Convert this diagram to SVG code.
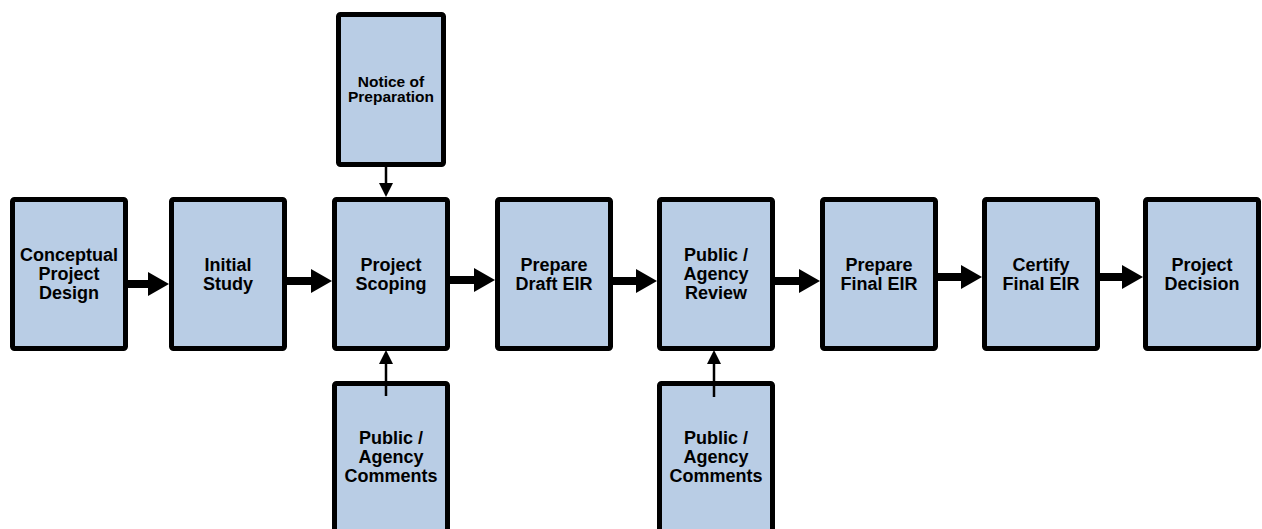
<svg xmlns="http://www.w3.org/2000/svg" width="1262" height="529" viewBox="0 0 1262 529">
<style>
.box{fill:#B9CDE5;stroke:#000;stroke-width:5}
.t{font-family:"Liberation Sans",Arial,sans-serif;font-weight:bold;font-size:18px;text-anchor:middle;fill:#000}
.ts{font-size:15.5px}
.thick{stroke:#000;stroke-width:8;fill:none}
.thin{stroke:#000;stroke-width:2.5;fill:none}
</style>
<defs>
<marker id="big" markerUnits="userSpaceOnUse" markerWidth="22" markerHeight="24" refX="0" refY="12" orient="auto" viewBox="0 0 22 24">
<path d="M0,0 L21,12 L0,24 Z" fill="#000"/>
</marker>
<marker id="small" markerUnits="userSpaceOnUse" markerWidth="15" markerHeight="15" refX="0" refY="7" orient="auto" viewBox="0 0 15 14">
<path d="M0,0 L14,7 L0,14 Z" fill="#000"/>
</marker>
</defs>
<rect width="1262" height="529" fill="#fff"/>
<g id="n1"><rect class="box" x="12.5" y="199.5" width="113" height="149" rx="2"/>
<text class="t"><tspan x="69" y="260.5">Conceptual</tspan><tspan x="69" y="279.5">Project</tspan><tspan x="69" y="298.5">Design</tspan></text></g>
<g id="n2"><rect class="box" x="171.5" y="199.5" width="113" height="149" rx="2"/>
<text class="t"><tspan x="228" y="271">Initial</tspan><tspan x="228" y="290">Study</tspan></text></g>
<g id="n3"><rect class="box" x="334.5" y="199.5" width="113" height="149" rx="2"/>
<text class="t"><tspan x="391" y="271">Project</tspan><tspan x="391" y="290">Scoping</tspan></text></g>
<g id="n4"><rect class="box" x="497.5" y="199.5" width="113" height="149" rx="2"/>
<text class="t"><tspan x="554" y="271">Prepare</tspan><tspan x="554" y="290">Draft EIR</tspan></text></g>
<g id="n5"><rect class="box" x="659.5" y="199.5" width="113" height="149" rx="2"/>
<text class="t"><tspan x="716" y="260.5">Public /</tspan><tspan x="716" y="279.5">Agency</tspan><tspan x="716" y="298.5">Review</tspan></text></g>
<g id="n6"><rect class="box" x="822.5" y="199.5" width="113" height="149" rx="2"/>
<text class="t"><tspan x="879" y="271">Prepare</tspan><tspan x="879" y="290">Final EIR</tspan></text></g>
<g id="n7"><rect class="box" x="984.5" y="199.5" width="113" height="149" rx="2"/>
<text class="t"><tspan x="1041" y="271">Certify</tspan><tspan x="1041" y="290">Final EIR</tspan></text></g>
<g id="n8"><rect class="box" x="1145.5" y="199.5" width="113" height="149" rx="2"/>
<text class="t"><tspan x="1202" y="271">Project</tspan><tspan x="1202" y="290">Decision</tspan></text></g>
<g id="nop"><rect class="box" x="338.5" y="14.5" width="105" height="150" rx="2"/>
<text class="t ts"><tspan x="391" y="87">Notice of</tspan><tspan x="391" y="102">Preparation</tspan></text></g>
<g id="pac1"><rect class="box" x="334.5" y="383.5" width="113" height="150" rx="2"/>
<text class="t"><tspan x="391" y="444">Public /</tspan><tspan x="391" y="463">Agency</tspan><tspan x="391" y="482">Comments</tspan></text></g>
<g id="pac2"><rect class="box" x="659.5" y="383.5" width="113" height="150" rx="2"/>
<text class="t"><tspan x="716" y="444">Public /</tspan><tspan x="716" y="463">Agency</tspan><tspan x="716" y="482">Comments</tspan></text></g>
<g id="connectors">
<line class="thick" x1="127" y1="284" x2="148" y2="284" marker-end="url(#big)"/>
<line class="thick" x1="286" y1="281" x2="311" y2="281" marker-end="url(#big)"/>
<line class="thick" x1="449" y1="280" x2="474" y2="280" marker-end="url(#big)"/>
<line class="thick" x1="612" y1="281" x2="636" y2="281" marker-end="url(#big)"/>
<line class="thick" x1="774" y1="281" x2="799" y2="281" marker-end="url(#big)"/>
<line class="thick" x1="937" y1="277" x2="961" y2="277" marker-end="url(#big)"/>
<line class="thick" x1="1099" y1="277" x2="1122" y2="277" marker-end="url(#big)"/>
<line class="thin" x1="386" y1="163" x2="386" y2="183" marker-end="url(#small)"/>
<line class="thin" x1="386" y1="396" x2="386" y2="364" marker-end="url(#small)"/>
<line class="thin" x1="714" y1="397" x2="714" y2="364" marker-end="url(#small)"/>
</g>
</svg>
